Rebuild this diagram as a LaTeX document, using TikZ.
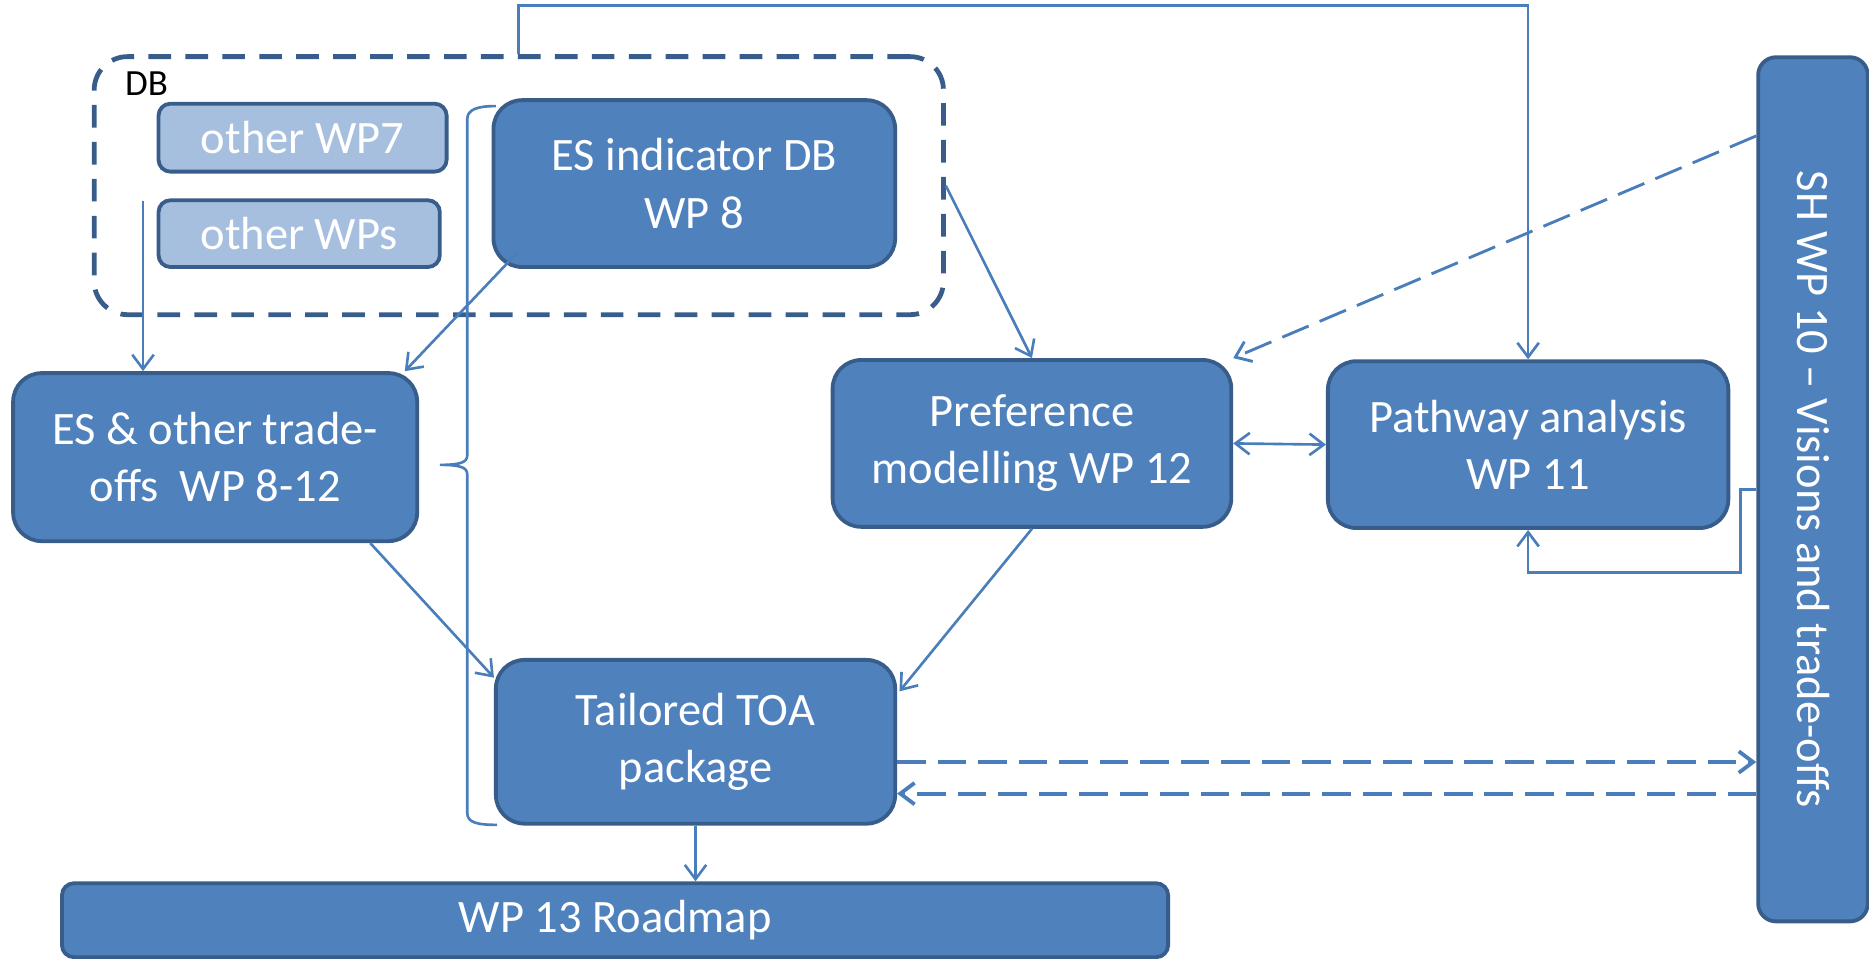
\documentclass[tikz,border=0pt]{standalone}
\usepackage{fontspec}
\setmainfont{Carlito}
\usetikzlibrary{arrows.meta}
\definecolor{boxfill}{HTML}{4F81BD}
\definecolor{boxline}{HTML}{385D8A}
\definecolor{wire}{HTML}{4A7EBB}
\definecolor{lightfill}{HTML}{A7BFDF}
\begin{document}
\begin{tikzpicture}[x=0.5pt,y=-0.5pt,
  wp/.style={draw=boxline, line width=1.6pt, fill=boxfill, rounded corners=12pt,
    text=white, align=center, font=\fontsize{19.5}{24}\selectfont, inner sep=0pt},
  minor/.style={wp, fill=lightfill, rounded corners=5pt},
  flow/.style={draw=wire, line width=1.1pt, -{Straight Barb[length=6pt,width=9pt]}},
  dflow/.style={flow, dash pattern=on 12pt off 5pt},
  group/.style={draw=boxline, line width=2pt, dash pattern=on 9.5pt off 6pt,
    rounded corners=14pt, inner sep=0pt}]
\useasboundingbox (0,0) rectangle (1568,804);

% database group
\node[group, minimum width=356.25pt, minimum height=108.25pt] (db) at (435.25,155.75) {};
\node[anchor=base west, inner sep=0pt, font=\fontsize{15.5}{18}\selectfont] (dblabel) at (104.5,80.5) {DB};
\node[minor, minimum width=120.85pt, minimum height=28.5pt] (wp7) at (253.85,115.5) {other WP7};
\node[minor, minimum width=118pt, minimum height=28pt] (wps) at (251,196) {other WPs};
\node[wp, minimum width=168.5pt, minimum height=70pt] (wp8) at (582.5,154) {ES indicator DB\\WP 8};

% work packages
\node[wp, minimum width=169.5pt, minimum height=70.5pt] (trade) at (180.5,383.5) {ES \& other trade-\\offs\ \ WP 8-12};
\node[wp, minimum width=167.25pt, minimum height=70pt] (pref) at (865.75,372) {Preference\\modelling WP 12};
\node[wp, minimum width=168pt, minimum height=70pt] (path) at (1282,373) {Pathway analysis\\WP 11};
\node[wp, minimum width=167.5pt, minimum height=68.7pt] (toa) at (583.5,622.3) {Tailored TOA\\package};
\node[wp, rounded corners=5pt, minimum width=464pt, minimum height=31pt] (road) at (516,772) {WP 13 Roadmap};
\node[wp, rounded corners=7.5pt, minimum width=46pt, minimum height=362.5pt] (sh) at (1521,410.5) {};
\node[rotate=-90, text=white, inner sep=0pt, font=\fontsize{19.5}{24}\selectfont] (shlabel) at (sh.center) {SH WP 10 -- Visions and trade-offs};

% brace grouping the database and the analysis chain
\draw[wire, line width=1.1pt] (416,89) .. controls (400,89) and (392,92) .. (392,100)
  -- (392,382) .. controls (392,388) and (386,390) .. (369,390)
  .. controls (386,390) and (392,392) .. (392,398)
  -- (392,682) .. controls (392,690) and (400,692) .. (417,692);

% connectors
\coordinate (wpsfeed) at (120,169);
\draw[flow] (wpsfeed) -- (wpsfeed |- trade.north);
\draw[flow] ([shift={(21,-13)}]wp8.south west) -- ([shift={(-12,0)}]trade.north east);
\draw[flow] (db.east) -- (pref.north);
\draw[flow] (db.north) -- ++(0,-41) -| (path.north);
\draw[dflow, line width=1.2pt] ([shift={(0,67.6)}]sh.north west) -- (pref.north east);
\draw[flow, {Straight Barb[length=6pt,width=9pt]}-{Straight Barb[length=6pt,width=9pt]}] (pref.east) -- (path.west);
\draw[flow] (sh.west) -- ++(-13,0) -- ++(0,70) -| (path.south);
\draw[flow] ([shift={(-41,0)}]trade.south east) -- ([shift={(0,16.5)}]toa.north west);
\draw[flow] (pref.south) -- ([shift={(2,28)}]toa.north east);
\draw[flow] (toa.south) -- (toa.south |- road.north);
\coordinate (toaout) at ([shift={(0,17)}]toa.east);
\coordinate (toain) at ([shift={(0,43.5)}]toa.east);
\draw[dflow, line width=1.6pt] (toaout) -- (toaout -| sh.west);
\draw[dflow, line width=1.6pt] (toain -| sh.west) -- (toain);
\end{tikzpicture}
\end{document}
